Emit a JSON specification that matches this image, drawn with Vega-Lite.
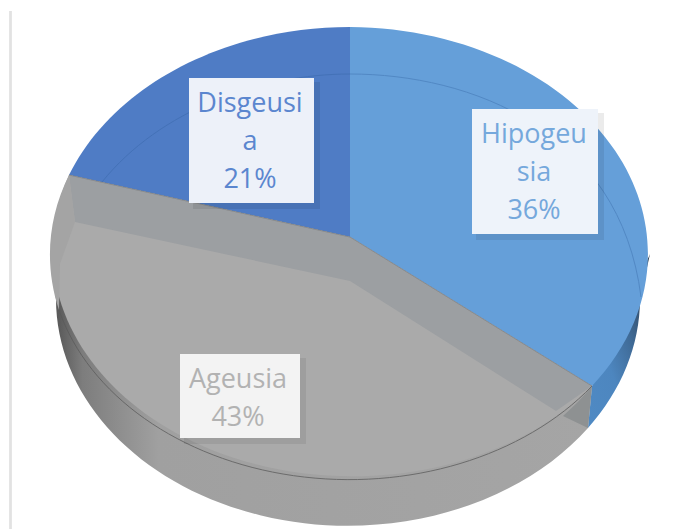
{"$schema":"https://vega.github.io/schema/vega-lite/v6.json","width":686,"height":529,"padding":0,"autosize":"none","background":"#ffffff","view":{"stroke":null},
"data":{"values":[{"category":"Hipogeusia","share":36,"label":"Hipogeu\nsia\n36%"},{"category":"Ageusia","share":43,"label":"Ageusia\n43%"},{"category":"Disgeusia","share":21,"label":"Disgeusi\na\n21%"}]},
"encoding":{"x":{"value":350},"y":{"value":254}},
"layer":[
{"mark":{"type":"rule","color":"#e2e2e2","strokeWidth":2},"encoding":{"x":{"value":10.5},"y":{"value":11},"y2":{"value":529}}},
{"transform":[{"filter":"datum.category==='Ageusia'"}],"mark":{"type":"point","filled":true,"opacity":1,"size":4,"strokeWidth":0,"shape":"M-300,0 L-294,45 A292,227 0 0 0 238,174 L242,132 L0,0 Z","fill":{"x1":0,"y1":0,"x2":1,"y2":0,"gradient":"linear","stops":[{"offset":0,"color":"#4f4f4f"},{"offset":0.06,"color":"#7d7d7d"},{"offset":0.2,"color":"#a0a0a0"},{"offset":1,"color":"#a5a5a5"}]}}},
{"transform":[{"filter":"datum.category==='Hipogeusia'"}],"mark":{"type":"point","filled":true,"opacity":1,"size":4,"strokeWidth":0,"shape":"M242,132 L238,174 A292,227 0 0 0 290,45 L300,0 Z","fill":{"x1":1,"y1":0,"x2":0,"y2":1,"gradient":"linear","stops":[{"offset":0.1,"color":"#2f3f52"},{"offset":0.4,"color":"#3f6a96"},{"offset":0.65,"color":"#4d86bf"},{"offset":1,"color":"#4f8ac4"}]}}},
{"transform":[{"filter":"datum.category==='Hipogeusia'"}],"mark":{"type":"point","filled":true,"opacity":1,"size":4,"strokeWidth":0,"fill":"#659fd9","shape":"M0,-17 L0,-227 A300,227 0 0 1 242,132 Z"}},
{"transform":[{"filter":"datum.category==='Disgeusia'"}],"mark":{"type":"point","filled":true,"opacity":1,"size":4,"strokeWidth":0,"fill":"#4f7cc5","shape":"M0,-17 L-281,-79 A300,227 0 0 1 0,-227 Z"}},
{"transform":[{"filter":"datum.category==='Ageusia'"}],"mark":{"type":"point","filled":true,"opacity":1,"size":4,"strokeWidth":0,"fill":"#aaaaaa","shape":"M0,-17 L242,132 A300,227 0 0 1 -281,-79 Z"}},
{"transform":[{"filter":"datum.category==='Ageusia'"}],"mark":{"type":"point","filled":true,"opacity":1,"size":4,"strokeWidth":0,"fill":"#9c9fa2","shape":"M0,-17 L242,132 L206,157 L0,27 L-275,-32 L-281,-79 Z"}},
{"transform":[{"filter":"datum.category==='Ageusia'"}],"mark":{"type":"point","filled":true,"opacity":1,"size":4,"strokeWidth":0,"fill":"#a4a4a4","shape":"M-281,-79 A300,227 0 0 0 -291,56 L-290,10 L-275,-32 Z"}},
{"transform":[{"filter":"datum.category==='Ageusia'"}],"mark":{"type":"point","filled":true,"opacity":1,"size":4,"strokeWidth":0,"fill":"#8e9192","shape":"M242,132 L238,174 L213,162 A300,227 0 0 0 242,132 Z"}},
{"transform":[{"filter":"datum.category==='Ageusia'"}],"mark":{"type":"point","filled":false,"opacity":0.75,"size":4,"strokeWidth":1,"stroke":"#5a5a5a","shape":"M-291,56 A300,227 0 0 0 242,132"}},
{"transform":[{"filter":"datum.category==='Ageusia'"}],"mark":{"type":"point","filled":false,"opacity":0.7,"size":4,"strokeWidth":1,"stroke":"#7d7d7d","shape":"M-281,-79 L0,-17 L242,132"}},
{"transform":[{"filter":"datum.category==='Hipogeusia'"}],"mark":{"type":"point","filled":false,"opacity":0.35,"size":4,"strokeWidth":1,"stroke":"#2f5f9e","shape":"M0,-180 C120,-180 270,-124 291,43"}},
{"transform":[{"filter":"datum.category==='Disgeusia'"}],"mark":{"type":"point","filled":false,"opacity":0.35,"size":4,"strokeWidth":1,"stroke":"#2f5f9e","shape":"M-248,-72 C-190,-144 -90,-180 0,-180"}},
{"transform":[{"filter":"datum.category==='Disgeusia'"}],"mark":{"type":"point","filled":true,"opacity":0.08,"size":4,"strokeWidth":0,"fill":"#000000","shape":"M-157,-172 L-30,-172 L-30,-45 L-157,-45 Z"}},
{"transform":[{"filter":"datum.category==='Hipogeusia'"}],"mark":{"type":"point","filled":true,"opacity":0.08,"size":4,"strokeWidth":0,"fill":"#000000","shape":"M126,-141 L254,-141 L254,-14 L126,-14 Z"}},
{"transform":[{"filter":"datum.category==='Ageusia'"}],"mark":{"type":"point","filled":true,"opacity":0.07,"size":4,"strokeWidth":0,"fill":"#000000","shape":"M-166,104 L-44,104 L-44,190 L-166,190 Z"}},
{"transform":[{"filter":"datum.category==='Disgeusia'"}],"mark":{"type":"point","filled":true,"opacity":1,"size":4,"strokeWidth":0,"fill":"#edf1f9","shape":"M-161,-176 L-36,-176 L-36,-51 L-161,-51 Z"}},
{"transform":[{"filter":"datum.category==='Hipogeusia'"}],"mark":{"type":"point","filled":true,"opacity":1,"size":4,"strokeWidth":0,"fill":"#eef3fa","shape":"M122,-145 L248,-145 L248,-20 L122,-20 Z"}},
{"transform":[{"filter":"datum.category==='Ageusia'"}],"mark":{"type":"point","filled":true,"opacity":1,"size":4,"strokeWidth":0,"fill":"#f3f3f3","shape":"M-170,100 L-50,100 L-50,184 L-170,184 Z"}},
{"transform":[{"filter":"datum.category==='Disgeusia'"}],"mark":{"type":"text","font":"Open Sans","fontSize":27,"align":"center","baseline":"alphabetic","lineBreak":"\n","lineHeight":38,"color":"#5b86cf"},"encoding":{"x":{"value":250},"y":{"value":112},"text":{"field":"label"}}},
{"transform":[{"filter":"datum.category==='Hipogeusia'"}],"mark":{"type":"text","font":"Open Sans","fontSize":27,"align":"center","baseline":"alphabetic","lineBreak":"\n","lineHeight":38,"color":"#75a8dc"},"encoding":{"x":{"value":534},"y":{"value":143},"text":{"field":"label"}}},
{"transform":[{"filter":"datum.category==='Ageusia'"}],"mark":{"type":"text","font":"Open Sans","fontSize":27,"align":"center","baseline":"alphabetic","lineBreak":"\n","lineHeight":38,"color":"#b2b2b2"},"encoding":{"x":{"value":238},"y":{"value":388},"text":{"field":"label"}}}
]}
